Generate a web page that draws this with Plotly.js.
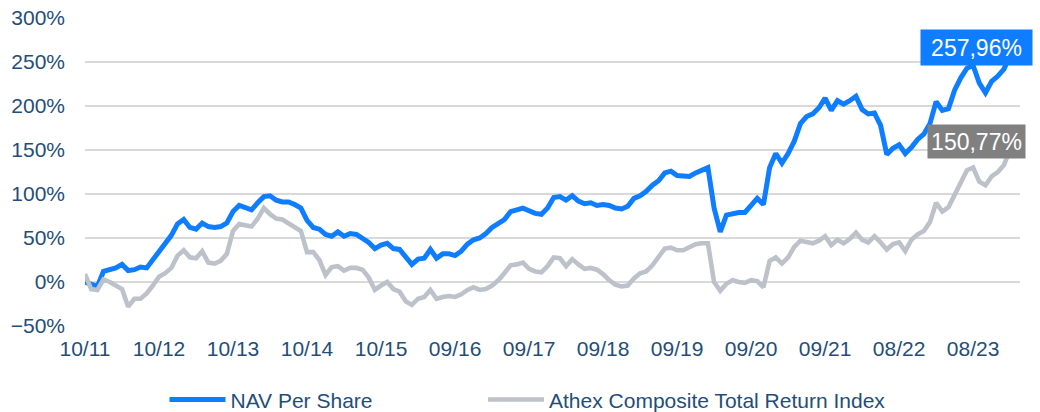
<!DOCTYPE html>
<html>
<head>
<meta charset="utf-8">
<script src="https://cdn.plot.ly/plotly-3.0.1.min.js"></script>
<style>
  html, body { margin: 0; padding: 0; background: #ffffff; }
  #chart { width: 1040px; height: 412px; }
</style>
</head>
<body>
<div id="chart"></div>
<script>
// Tick labels (one every 12 observations)
const tickLabels = ["10/11","10/12","10/13","10/14","10/15","09/16","09/17","09/18","09/19","09/20","09/21","08/22","08/23"];

// NAV Per Share cumulative return (%)
const navPerShare = [
  0, -3, -5, 12, 14, 16, 20, 13, 14, 17, 16, 25,
  34, 43, 53, 66, 71, 62, 60, 67, 63, 62, 63, 67,
  80, 87, 85, 82, 90, 97, 98, 93, 91, 91, 88, 84,
  70, 62, 60, 54, 52, 57, 52, 55, 54, 49, 45, 38,
  42, 44, 38, 37, 28, 20, 26, 27, 37, 27, 32, 32,
  30, 35, 43, 48, 50, 55, 62, 66, 71, 80, 82, 84,
  81, 78, 77, 84, 96, 97, 93, 98, 92, 89, 90, 87,
  88, 87, 84, 83, 86, 95, 98, 103, 110, 115, 124, 126,
  121, 121, 120, 124, 127, 130, 84, 57, 76, 78, 79, 79,
  86, 95, 88, 130, 146, 135, 146, 160, 180, 188, 191, 198,
  209, 195, 206, 202, 206, 211, 196, 191, 192, 178, 145, 152,
  156, 146, 153, 162, 168, 180, 205, 195, 197, 218, 232, 243,
  246, 226, 215, 228, 234, 242, 257.96
];

// Athex Composite Total Return Index cumulative return (%)
const athexTR = [
  9, -8, -9, 3, 0, -4, -8, -28, -19, -19, -13, -4,
  6, 10, 16, 30, 36, 28, 27, 35, 22, 21, 24, 32,
  58, 66, 64, 63, 72, 84, 77, 72, 71, 67, 63, 58,
  34, 34, 25, 8, 17, 18, 13, 16, 16, 14, 5, -9,
  -4, 0, -8, -11, -22, -26, -19, -17, -9, -19, -17, -16,
  -17, -14, -9, -6, -9, -8, -4, 2, 10, 19, 20, 22,
  15, 12, 11, 18, 28, 27, 18, 26, 20, 15, 16, 14,
  9, 2, -3, -5, -4, 4, 10, 12, 19, 28, 38, 39,
  36, 36, 40, 43, 44, 44, 0, -10, -2, 2, 0, -1,
  2, 1, -6, 24, 28, 21, 28, 40, 47, 45, 44, 47,
  52, 42, 48, 44, 49, 56, 48, 45, 52, 45, 37, 43,
  45, 35, 48, 54, 58, 68, 90, 80, 85, 99, 113, 127,
  130, 114, 110, 120, 125, 133, 150.77
];

const seriesNames = ["NAV Per Share", "Athex Composite Total Return Index"];
const lastLabels = ["257,96%", "150,77%"];

const step = 12;
const idxNav = navPerShare.map((_, i) => i);
const idxAthex = athexTR.map((_, i) => i);
const tickVals = tickLabels.map((_, k) => k * step);

const FONT = "Liberation Sans, Arial, sans-serif";
const TXT = "#1F4E79";
const BLUE = "#0F7DFF";
const GREY = "#BDC2CA";
const xRange = [0, 151.6];

const traces = [
  {
    x: idxNav, y: navPerShare, type: "scatter", mode: "lines",
    name: seriesNames[0], legend: "legend",
    line: { color: BLUE, width: 5, shape: "linear" },
    hoverinfo: "skip"
  },
  {
    x: idxAthex, y: athexTR, type: "scatter", mode: "lines",
    name: seriesNames[1], legend: "legend2",
    line: { color: GREY, width: 4.6, shape: "linear" },
    hoverinfo: "skip"
  }
];

const legendCommon = {
  orientation: "h", xanchor: "left", y: -0.24, yanchor: "middle",
  font: { family: FONT, color: TXT, size: 21 },
  itemwidth: 56, bgcolor: "rgba(0,0,0,0)"
};

const layout = {
  width: 1040, height: 412,
  margin: { l: 85, r: 20, t: 18, b: 86, autoexpand: false },
  paper_bgcolor: "#ffffff", plot_bgcolor: "#ffffff",
  font: { family: FONT, color: TXT, size: 21 },
  showlegend: true,
  legend: Object.assign({}, legendCommon, { x: 0.085 }),
  legend2: Object.assign({}, legendCommon, { x: 0.4257 }),
  xaxis: {
    range: xRange, tickmode: "array", tickvals: tickVals, ticktext: tickLabels,
    showgrid: false, zeroline: false, showline: false, ticks: "",
    tickfont: { family: FONT, color: TXT, size: 21 },
    ticklabelstandoff: 8, fixedrange: true
  },
  xaxis2: {
    overlaying: "x", anchor: "free", position: 50 / 350,
    range: xRange, tickmode: "array", tickvals: tickVals,
    showticklabels: false, showgrid: false, zeroline: false, showline: false,
    ticks: "outside", ticklen: 6, tickwidth: 1.5, tickcolor: "#D9D9D9"
  },
  yaxis: {
    range: [-50, 300], dtick: 50, tick0: 0, ticksuffix: "%",
    showgrid: true, gridcolor: "#D9D9D9", gridwidth: 1.4,
    zeroline: false, showline: false, ticks: "",
    tickfont: { family: FONT, color: TXT, size: 21 },
    ticklabelstandoff: 19, fixedrange: true
  },
  annotations: [
    {
      xref: "x", yref: "y", x: idxNav[idxNav.length - 1], y: navPerShare[navPerShare.length - 1],
      text: lastLabels[0], showarrow: false, xshift: -34, yshift: 8,
      bgcolor: BLUE, width: 111, height: 35, borderpad: 0,
      font: { family: FONT, color: "#ffffff", size: 23 }
    },
    {
      xref: "x", yref: "y", x: idxAthex[idxAthex.length - 1], y: athexTR[athexTR.length - 1],
      text: lastLabels[1], showarrow: false, xshift: -34, yshift: 8,
      bgcolor: "#808080", width: 97, height: 33, borderpad: 0,
      font: { family: FONT, color: "#ffffff", size: 23 }
    }
  ]
};

Plotly.newPlot("chart", traces, layout, { staticPlot: true, displayModeBar: false });
</script>
</body>
</html>
